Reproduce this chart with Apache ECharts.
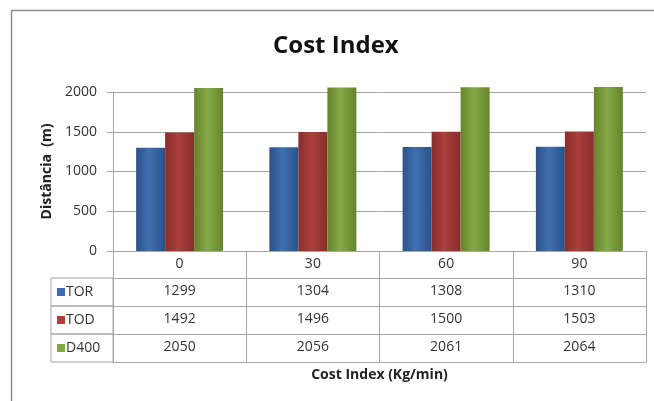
<!DOCTYPE html>
<html>
<head>
<meta charset="utf-8">
<script src="https://cdn.jsdelivr.net/npm/echarts@6/dist/echarts.min.js"></script>
<style>
html,body{margin:0;padding:0;background:#fff}
#chart{width:654px;height:401px}
</style>
</head>
<body>
<div id="chart"></div>
<script>
(function(){

    var categories = ['0', '30', '60', '90'];
    var seriesNames = ['TOR', 'TOD', 'D400'];
    var torValues = [1299, 1304, 1308, 1310];
    var todValues = [1492, 1496, 1500, 1503];
    var d400Values = [2050, 2056, 2061, 2064];
    var seriesValues = [torValues, todValues, d400Values];

    var baseFont = 'Open Sans';
    var gridColor = '#a6a6a6';
    // [edge, middle] per series
    var barColors = [['#2c5188', '#3f70b0'], ['#8a2d2b', '#ab3f3c'], ['#66852c', '#87a847']];
    var keyColors = ['#3c6ab0', '#b03a38', '#86a842'];
    var rowOffsets = [27, 55, 83];

    function barGradient(c) {
        return new echarts.graphic.LinearGradient(0, 0, 1, 0, [
            {offset: 0, color: c[0]},
            {offset: 0.45, color: c[1]},
            {offset: 1, color: c[0]}
        ]);
    }

    var chart = echarts.init(document.getElementById('chart'));

    var xAxes = [{
        type: 'category',
        data: categories,
        position: 'bottom',
        offset: 0,
        axisLine: {lineStyle: {color: gridColor}},
        axisTick: {show: true, interval: 0, length: 27, lineStyle: {color: gridColor}},
        axisLabel: {margin: 6, color: '#333', fontFamily: baseFont, fontSize: 14}
    }];

    seriesNames.forEach(function(name, i){
        var rich = {
            k: {width: 8, height: 8, backgroundColor: keyColors[i]},
            t: {width: 47, fontFamily: baseFont, fontSize: 14, color: '#333', padding: [0, 0, 0, 1], lineHeight: 28}
        };
        xAxes.push({
            type: 'category',
            data: seriesValues[i].map(String),
            position: 'bottom',
            offset: rowOffsets[i],
            name: '{k|}{t|' + name + '}',
            nameLocation: 'start',
            nameGap: 62,
            nameTextStyle: {
                align: 'left',
                verticalAlign: 'top',
                height: 28,
                lineHeight: 28,
                padding: [0, 0, 0, 6],
                borderColor: gridColor,
                borderWidth: 1,
                rich: rich
            },
            axisLine: {lineStyle: {color: gridColor}},
            axisTick: {show: true, interval: 0, length: 28, lineStyle: {color: gridColor}},
            axisLabel: {margin: 6, color: '#333', fontFamily: baseFont, fontSize: 14}
        });
    });

    // bottom border of the data table, carries the axis title
    xAxes.push({
        type: 'category',
        data: categories,
        position: 'bottom',
        offset: 111,
        name: 'Cost Index (Kg/min)',
        nameLocation: 'middle',
        nameGap: 6,
        nameTextStyle: {fontFamily: baseFont, fontSize: 14, fontWeight: 'bold', color: '#222', verticalAlign: 'top'},
        axisLine: {lineStyle: {color: gridColor}},
        axisTick: {show: false},
        axisLabel: {show: false}
    });

    var option = {
        animation: false,
        title: {
            text: 'Cost Index',
            left: 268,
            top: 29,
            padding: 5,
            textStyle: {fontFamily: baseFont, fontSize: 24, fontWeight: 'bold', color: '#111'}
        },
        graphic: [{
            type: 'rect',
            shape: {x: 11.5, y: 10.5, width: 700, height: 500},
            style: {fill: 'none', stroke: '#8c8c8c', lineWidth: 1.5},
            silent: true
        }],
        grid: {left: 113, right: 8, top: 92, bottom: 150},
        xAxis: xAxes,
        yAxis: {
            type: 'value',
            min: 0,
            max: 2000,
            interval: 500,
            name: 'Distância  (m)',
            nameLocation: 'middle',
            nameGap: 59,
            nameTextStyle: {fontFamily: baseFont, fontSize: 14, fontWeight: 'bold', color: '#222'},
            axisLine: {show: true, lineStyle: {color: gridColor}},
            axisTick: {show: true, length: 6, lineStyle: {color: gridColor}},
            axisLabel: {
                margin: 16, color: '#333', fontFamily: baseFont, fontSize: 14,
                formatter: function(v){ return String(v); }
            },
            splitLine: {lineStyle: {color: gridColor}}
        },
        series: seriesNames.map(function(name, i){
            return {
                name: name,
                type: 'bar',
                data: seriesValues[i],
                barWidth: 29,
                barGap: '0%',
                clip: false,
                itemStyle: {color: barGradient(barColors[i])}
            };
        })
    };
    chart.setOption(option);

})();
</script>
</body>
</html>
